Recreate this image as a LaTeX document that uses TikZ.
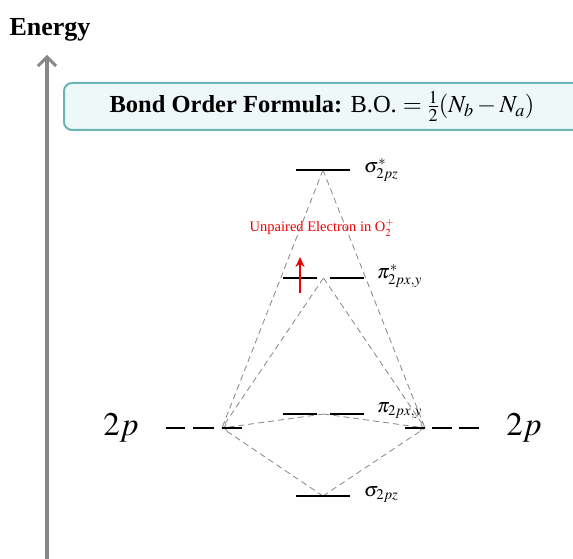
\documentclass[tikz,border=0pt]{standalone}
\usepackage{mathptmx}
\usepackage{fontspec}
\setmainfont{Liberation Serif}
\usetikzlibrary{arrows.meta}
\definecolor{axisgray}{HTML}{888888}
\definecolor{boxborder}{HTML}{6AB4B4}
\definecolor{boxfill}{HTML}{EEF8F8}
\definecolor{dashgray}{HTML}{858585}
\definecolor{ered}{HTML}{F00000}
\begin{document}
\begin{tikzpicture}[x=1pt,y=-1pt,
  level/.style={line width=2.5pt},
  conn/.style={dashgray, dash pattern=on 6pt off 4pt, line width=0.8pt},
  molabel/.style={anchor=west, font=\fontsize{20}{24}\selectfont, inner sep=0pt},
  aolabel/.style={font=\fontsize{33}{38}\selectfont, inner sep=0pt}]
\useasboundingbox (0,0) rectangle (573,559);
\begin{scope}
\clip (0,0) rectangle (573,559);
% formula box
\path[draw=boxborder, fill=boxfill, line width=2pt, rounded corners=8pt] (64,83) rectangle (610,130);
\end{scope}
\node[inner sep=0pt, font=\fontsize{24.5}{28}\selectfont] (formula) at (322,106) {\textbf{Bond Order Formula:} B.O. $=\frac{1}{2}(N_b-N_a)$};
% energy axis
\node[inner sep=0pt, font=\fontsize{26}{30}\selectfont\bfseries] (energy) at (50,30) {Energy};
\coordinate (axbot) at (47,562);
\coordinate (axtop) at (47,55);
\draw[axisgray, line width=4pt, -{Straight Barb[length=9pt,width=18pt,line width=3pt]}] (axbot) -- (axtop);
% level centres
\coordinate (ss) at (323,170);
\coordinate (ps) at (323.5,278);
\coordinate (pb) at (323.5,414);
\coordinate (sb) at (323,496);
\coordinate (L) at (222,428);
\coordinate (R) at (425,428);
% dashed connectors
\draw[conn] (ss) -- (L);
\draw[conn] (ss) -- (R);
\draw[conn] (ps) -- (L);
\draw[conn] (ps) -- (R);
\draw[conn, -{To[length=5pt,width=7pt]}] (pb) -- (L);
\draw[conn, -{To[length=5pt,width=7pt]}] (pb) -- (R);
\draw[conn] (sb) -- (L);
\draw[conn] (sb) -- (R);
% sigma* 2pz
\draw[level] (296,170) -- (350,170);
\node[molabel] (ssl) at (364,170) {$\sigma^*_{2pz}$};
% pi* 2px,y
\draw[level] (283,278) -- (317,278);
\draw[level] (330,278) -- (364,278);
\node[molabel] (psl) at (377,276) {$\pi^*_{2px,y}$};
% pi 2px,y
\draw[level] (283,414) -- (317,414);
\draw[level] (330,414) -- (364,414);
\node[molabel] (pbl) at (377,411) {$\pi_{2px,y}$};
% sigma 2pz
\draw[level] (296,496) -- (350,496);
\node[molabel] (sbl) at (364,495) {$\sigma_{2pz}$};
% atomic 2p levels
\draw[level] (166,428) -- (185,428);
\draw[level] (193,428) -- (214,428);
\draw[level] (222,428) -- (242,428);
\draw[level] (405,428) -- (425,428);
\draw[level] (432,428) -- (452,428);
\draw[level] (459,428) -- (479,428);
\node[aolabel] (l2p) at (121,428) {$2p$};
\node[aolabel] (r2p) at (524,428) {$2p$};
% unpaired electron
\coordinate (eb) at (300,293);
\coordinate (et) at (300,257);
\draw[ered, line width=2.5pt, -{Stealth[length=10pt,width=9pt]}] (eb) -- (et);
\node[ered, inner sep=0pt, font=\fontsize{14.5}{17}\selectfont] (unp) at (322,228) {Unpaired Electron in O$_2^+$};
\end{tikzpicture}
\end{document}
